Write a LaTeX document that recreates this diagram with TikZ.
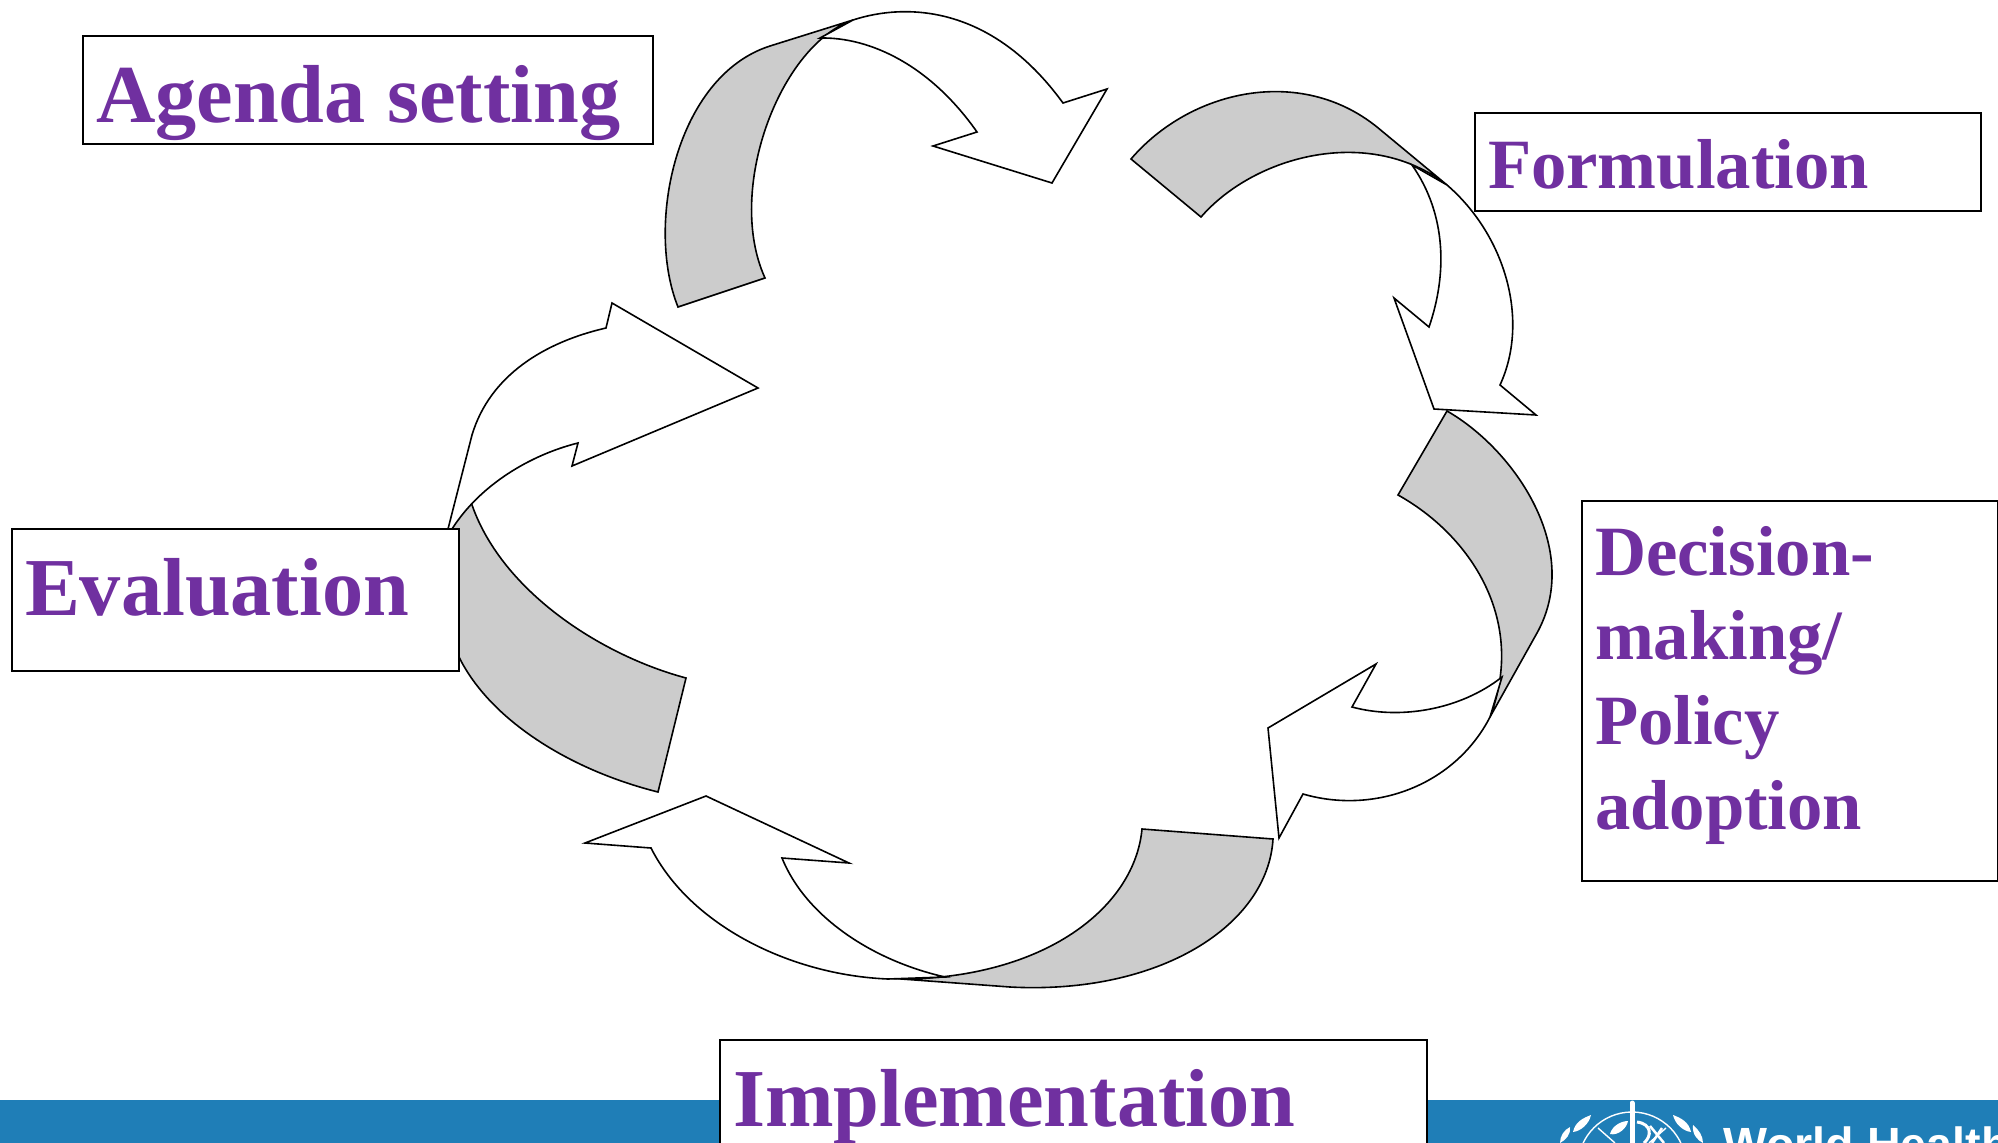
\documentclass[tikz,border=0pt]{standalone}
\usepackage{fontspec}
\setmainfont{Liberation Serif}
\newfontfamily\whofont{Liberation Sans}
\definecolor{termtext}{HTML}{7030A0}
\definecolor{bandgrey}{HTML}{CCCCCC}
\definecolor{whoblue}{HTML}{1F7EB7}
\tikzset{
  termbox/.style={draw=black,fill=white,line width=1.8pt,text=termtext,outer sep=0pt,inner xsep=13pt,inner ysep=0pt,anchor=north west,align=left},
  bigterm/.style={termbox,font=\bfseries\fontsize{82.3}{99}\selectfont},
  midterm/.style={termbox,font=\bfseries\fontsize{70.7}{84.7}\selectfont},
  greypart/.style={draw=black,fill=bandgrey,line width=1.6pt,line join=miter},
  whitepart/.style={draw=black,fill=white,line width=1.6pt,line join=miter},
  logoline/.style={draw=white,line width=1.4pt},
  logoleaf/.style={fill=white}
}
\begin{document}
\begin{tikzpicture}[x=1pt,y=-1pt]
\path[use as bounding box,clip] (0,0) rectangle (1998,1143);
\fill[white] (0,0) rectangle (1998,1143);
\fill[whoblue] (0,1100) rectangle (1998,1143);
\draw[greypart] (678,307) -- (765,278) .. controls (725,190) and (780,45) .. (853,20) -- (770,46) .. controls (676,76) and (645,225) .. (678,307) -- cycle;
\draw[whitepart] (820,38) .. controls (870,37) and (930,65) .. (977,132) -- (933,146) -- (1052,183) -- (1107,89) -- (1063,103) .. controls (991,4) and (905,3) .. (853,20) -- cycle;
\draw[greypart] (1131,159) -- (1201,217) .. controls (1255,155) and (1370,125) .. (1447,185) -- (1377,127) .. controls (1300,65) and (1190,90) .. (1131,159) -- cycle;
\draw[whitepart] (1447,185) .. controls (1505,235) and (1530,320) .. (1500,385) -- (1536,415) -- (1434,409) -- (1394,298) -- (1429,327) .. controls (1447,275) and (1447,215) .. (1412,165) -- cycle;
\draw[greypart] (1447,411) -- (1398,495) .. controls (1470,535) and (1527,620) .. (1490,717) -- (1537,633) .. controls (1583,550) and (1515,450) .. (1447,411) -- cycle;
\draw[whitepart] (1490,717) .. controls (1455,785) and (1375,815) .. (1303,794) -- (1279,838) -- (1268,728) -- (1376,664) -- (1352,707) .. controls (1400,720) and (1460,710) .. (1502,677) -- cycle;
\draw[greypart] (1142,829) -- (1273,839) .. controls (1268,925) and (1160,995) .. (1010,987) -- (888,978) -- (910,979) .. controls (1050,975) and (1135,905) .. (1142,829) -- cycle;
\draw[whitepart] (888,979) .. controls (790,975) and (690,925) .. (651,848) -- (585,843) -- (706,796) -- (849,863) -- (782,858) .. controls (805,915) and (870,960) .. (945,977) -- cycle;
\draw[greypart] (686,678) -- (658,792) .. controls (570,770) and (490,720) .. (459,657) -- (448,530) -- (471,502) .. controls (500,590) and (600,655) .. (686,678) -- cycle;
\draw[whitepart] (448,529) -- (472,435) .. controls (490,375) and (545,342) .. (606,328) -- (612,303) -- (758,388) -- (572,466) -- (578,443) .. controls (530,455) and (480,485) .. (452,529) -- cycle;
\node[bigterm,text width=544pt,text height=86pt,text depth=22pt] (agenda) at (83,36) {Agenda\hspace{-6pt} setting};
\node[midterm,text width=480pt,text height=75pt,text depth=23pt] (formulation) at (1475,113) {Formulation};
\node[midterm,text width=390pt,text height=74pt,text depth=306pt] (decision) at (1582,501) {Decision-\\making/\\Policy\\adoption};
\node[bigterm,text width=421pt,text height=86.5pt,text depth=55.5pt] (evaluation) at (12,529) {Evaluation};
\node[bigterm,text width=681pt,text height=86pt,text depth=40pt] (implementation) at (720,1040) {Implementation};
\node[anchor=base west,inner sep=0pt,text=white,font=\whofont\bfseries\fontsize{46.6}{56}\selectfont] (whoname) at (1723,1160) {World Health};
\draw[logoline,line width=5pt,line cap=round] (1632,1103) -- (1632,1143);
\draw[logoline] (1632,1166) circle (54);
\draw[logoline] (1598,1128) -- (1615,1143);
\draw[logoline] (1666,1128) -- (1649,1143);
\draw[logoline,line width=3pt] (1637,1122) .. controls (1652,1124) and (1652,1136) .. (1644,1143);
\draw[logoline,line width=2.5pt] (1650,1126) -- (1664,1143);
\draw[logoline,line width=2.5pt] (1662,1128) -- (1652,1143);
\fill[logoleaf] (1610,1134) .. controls (1612,1126) and (1621,1121) .. (1628,1121) .. controls (1627,1128) and (1618,1136) .. (1610,1134) -- cycle;
\fill[logoleaf] (1573,1132) .. controls (1575,1122) and (1583,1118) .. (1591,1115) .. controls (1589,1124) and (1581,1131) .. (1573,1132) -- cycle;
\fill[logoleaf] (1691,1132) .. controls (1689,1122) and (1681,1118) .. (1673,1115) .. controls (1675,1124) and (1683,1131) .. (1691,1132) -- cycle;
\fill[logoleaf] (1560,1143) .. controls (1560,1136) and (1564,1130) .. (1570,1127) .. controls (1571,1134) and (1566,1140) .. (1560,1143) -- cycle;
\fill[logoleaf] (1703,1143) .. controls (1703,1136) and (1699,1130) .. (1693,1125) .. controls (1692,1134) and (1697,1140) .. (1703,1143) -- cycle;
\end{tikzpicture}
\end{document}
